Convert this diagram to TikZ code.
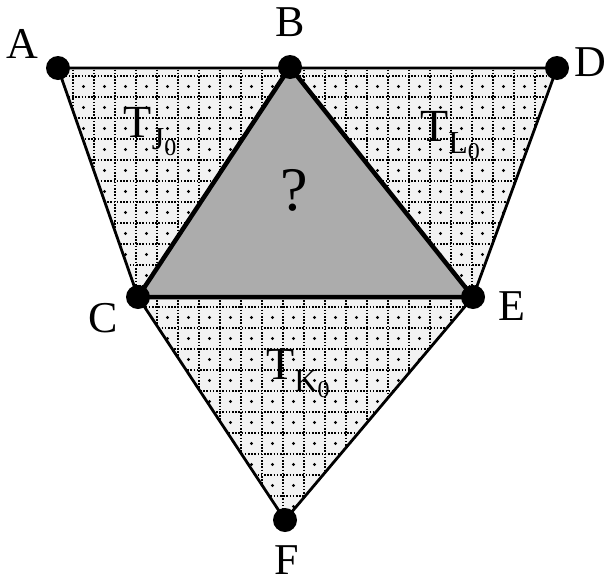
\documentclass[tikz,border=0pt]{standalone}
\usepackage{fontspec}
\setmainfont{Liberation Serif}
\begin{document}
\begin{tikzpicture}[x=1pt,y=-1pt,
  vtx/.style={circle,fill=black,inner sep=0pt,minimum size=24pt},
  lbl/.style={font=\fontsize{44}{48}\selectfont,inner sep=0pt},
  tlbl/.style={font=\fontsize{46}{50}\selectfont,inner sep=0pt},
  edge/.style={line width=2.8pt,line join=round},
  thick edge/.style={line width=4.5pt,line join=round}]
\newcommand{\sbs}[2]{\raisebox{-0.25em}{\fontsize{32}{34}\selectfont #1\raisebox{-0.2em}{\fontsize{24}{26}\selectfont #2}}}
\useasboundingbox (0,0) rectangle (605,584);
\coordinate (A) at (58,68);
\coordinate (B) at (290,67);
\coordinate (D) at (557,68);
\coordinate (C) at (138,297);
\coordinate (E) at (473,297);
\coordinate (F) at (285,520);
% light dotted fill
\begin{scope}
  \clip (A) -- (D) -- (E) -- (F) -- (C) -- cycle;
  \fill[gray!10] (0,0) rectangle (605,584);
  \foreach \x in {10,31,...,600} {\draw[black,dash pattern=on 1.6pt off 1.6pt,line width=1.6pt] (\x,60) -- (\x,530);}
  \foreach \y in {76,97,...,530} {\draw[black,dash pattern=on 1.6pt off 1.6pt,line width=1.6pt] (40,\y) -- (570,\y);}
  \foreach \x in {20.5,41.5,...,600} {\foreach \y in {86.5,107.5,...,530} {\fill (\x,\y) circle (1.6pt);}}
\end{scope}
% dark inner triangle
\fill[gray!65] (B) -- (C) -- (E) -- cycle;
\draw[edge] (A) -- (D) -- (E) -- (F) -- (C) -- cycle;
\draw[thick edge] (B) -- (C) -- (E) -- cycle;
\node[vtx] (a) at (A) {};
\node[vtx] (b) at (B) {};
\node[vtx] (d) at (D) {};
\node[vtx] (c) at (C) {};
\node[vtx] (e) at (E) {};
\node[vtx] (f) at (F) {};
\node[lbl] (la) at (22,44) {A};
\node[lbl] (lb) at (290,22) {B};
\node[lbl] (ld) at (590,62) {D};
\node[lbl] (lc) at (103,318) {C};
\node[lbl] (le) at (512,306) {E};
\node[lbl] (lf) at (287,560) {F};
\node[tlbl] (tj) at (150,132) {T\sbs{J}{0}};
\node[tlbl] (tl) at (450,136) {T\sbs{L}{0}};
\node[tlbl] (tk) at (298,374) {T\sbs{K}{0}};
\node[font=\fontsize{62}{66}\selectfont,inner sep=0pt] (q) at (294,190) {?};
\end{tikzpicture}
\end{document}
